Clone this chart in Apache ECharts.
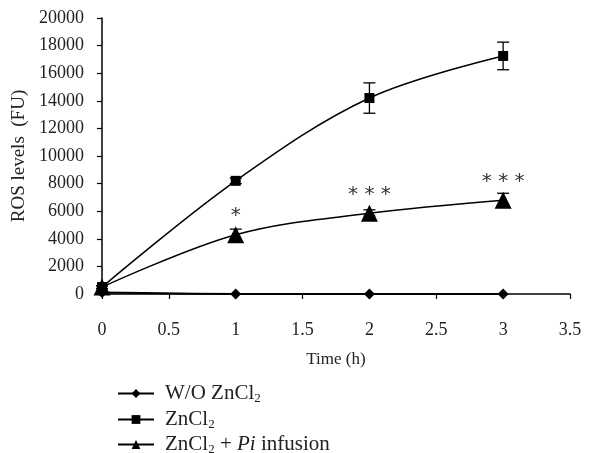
<!DOCTYPE html>
<html>
<head>
<meta charset="utf-8">
<script src="https://cdn.jsdelivr.net/npm/echarts@6/dist/echarts.min.js"></script>
<style>
  html, body { margin: 0; padding: 0; background: #fff; }
  #chart { width: 611px; height: 453px; }
</style>
</head>
<body>
<div id="chart"></div>
<script>
// time points (h)
const times = [0, 1, 2, 3];
const withoutZn = [100, 0, 0, 0];
const zncl2 = [500, 8200, 14200, 17250];
const zncl2Pi = [500, 4300, 5850, 6800];
// error bars [low, high]
const zncl2Err = [[400, 600], [8000, 8400], [13100, 15300], [16250, 18250]];
const zncl2PiErr = [[400, 600], [3950, 4700], [5650, 6100], [6400, 7300]];
const sigMarks = ['', '*', '* * *', '* * *'];
const seriesNames = ['W/O ZnCl2', 'ZnCl2', 'ZnCl2 + Pi infusion'];

const serif = '"Liberation Serif", "DejaVu Serif", serif';
const chart = echarts.init(document.getElementById('chart'));

const pairs = arr => times.map((t, i) => [t, arr[i]]);
const errData = err => times.map((t, i) => [t, err[i][0], err[i][1]]);

function errorBar(params, api) {
  const x = api.value(0);
  const lo = api.coord([x, api.value(1)]);
  const hi = api.coord([x, api.value(2)]);
  const w = 6;
  const st = { stroke: '#000', lineWidth: 1.3 };
  return {
    type: 'group',
    children: [
      { type: 'line', shape: { x1: lo[0], y1: lo[1], x2: hi[0], y2: hi[1] }, style: st },
      { type: 'line', shape: { x1: lo[0] - w, y1: lo[1], x2: lo[0] + w, y2: lo[1] }, style: st },
      { type: 'line', shape: { x1: hi[0] - w, y1: hi[1], x2: hi[0] + w, y2: hi[1] }, style: st }
    ]
  };
}

// one legend row per series so they stack like the original
const legendText = {
  fontFamily: serif, fontSize: 21, color: '#222',
  rich: {
    g: { width: 6 },
    n: { fontFamily: serif, fontSize: 21, color: '#222' },
    i: { fontFamily: serif, fontSize: 21, color: '#222', fontStyle: 'italic' },
    s: { fontFamily: serif, fontSize: 13, color: '#222', padding: [10, 0, 0, 0] }
  }
};
const legendFmt = name => {
  if (name === 'W/O ZnCl2') return '{g|}{n|W/O ZnCl}{s|2}';
  if (name === 'ZnCl2') return '{g|}{n|ZnCl}{s|2}';
  return '{g|}{n|ZnCl}{s|2}{n| + }{i|Pi}{n| infusion}';
};
const legendTops = [383, 409, 434];
const legends = seriesNames.map((nm, i) => ({
  data: [nm],
  left: 117,
  top: legendTops[i],
  padding: 0,
  itemWidth: 36,
  itemHeight: 11,
  textStyle: legendText,
  formatter: legendFmt
}));

const lineBase = {
  type: 'line',
  smooth: 0.35,
  lineStyle: { color: '#000', width: 1.5 },
  itemStyle: { color: '#000' },
  emphasis: { disabled: true },
  animation: false,
  z: 3
};

chart.setOption({
  backgroundColor: '#fff',
  animation: false,
  grid: { left: 102, right: 41, top: 18, bottom: 159 },
  legend: legends,
  xAxis: {
    type: 'value',
    min: 0, max: 3.5, interval: 0.5,
    name: 'Time (h)',
    nameLocation: 'middle',
    nameGap: 57,
    nameTextStyle: { fontFamily: serif, fontSize: 17, color: '#222' },
    axisLine: { lineStyle: { color: '#000', width: 1.5 } },
    axisTick: { length: 5, lineStyle: { color: '#000', width: 1.2 } },
    axisLabel: { fontFamily: serif, fontSize: 18, color: '#222', margin: 27 },
    splitLine: { show: false }
  },
  yAxis: {
    type: 'value',
    min: 0, max: 20000, interval: 2000,
    name: 'ROS levels  (FU)',
    nameLocation: 'middle',
    nameGap: 70,
    nameTextStyle: { fontFamily: serif, fontSize: 19, color: '#222' },
    axisLine: { show: true, lineStyle: { color: '#000', width: 1.5 } },
    axisTick: { show: true, length: 5, lineStyle: { color: '#000', width: 1.2 } },
    axisLabel: { fontFamily: serif, fontSize: 18, color: '#222', margin: 18, formatter: v => String(v) },
    splitLine: { show: false }
  },
  series: [
    Object.assign({}, lineBase, {
      name: seriesNames[0],
      data: pairs(withoutZn),
      symbol: 'diamond',
      symbolSize: 11,
      lineStyle: { color: '#000', width: 2 }
    }),
    Object.assign({}, lineBase, {
      name: seriesNames[1],
      data: pairs(zncl2),
      symbol: 'rect',
      symbolSize: 10
    }),
    Object.assign({}, lineBase, {
      name: seriesNames[2],
      data: pairs(zncl2Pi),
      symbol: 'triangle',
      symbolSize: 17,
      label: {
        show: true,
        position: 'top',
        distance: 0,
        formatter: p => sigMarks[p.dataIndex],
        fontFamily: '"DejaVu Sans", sans-serif',
        fontSize: 20,
        color: '#333'
      }
    }),
    {
      type: 'custom',
      renderItem: errorBar,
      data: errData(zncl2Err),
      encode: { x: 0, y: [1, 2] },
      silent: true,
      z: 4
    },
    {
      type: 'custom',
      renderItem: errorBar,
      data: errData(zncl2PiErr),
      encode: { x: 0, y: [1, 2] },
      silent: true,
      z: 4
    }
  ]
});
</script>
</body>
</html>
